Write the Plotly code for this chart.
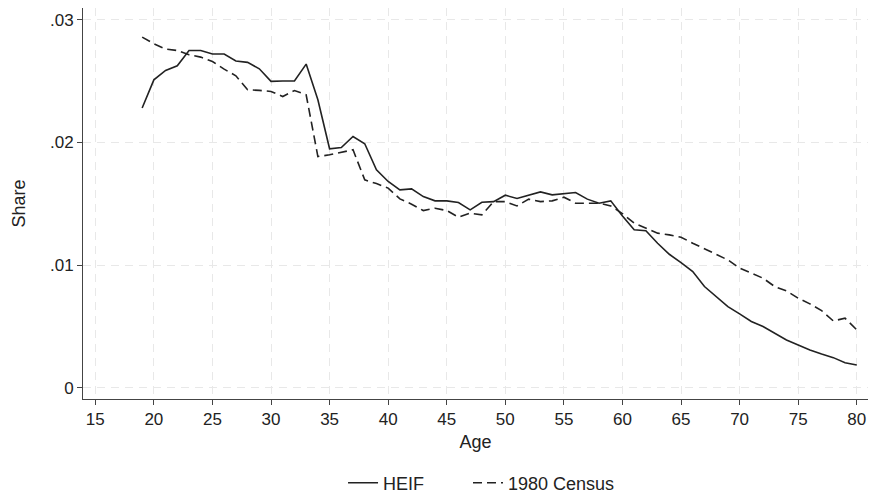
import plotly.graph_objects as go

ages = list(range(19, 81))
heif = [0.02280, 0.02510, 0.02586, 0.02624, 0.02749, 0.02749, 0.02720, 0.02720, 0.02663, 0.02652,
        0.02600, 0.02497, 0.02500, 0.02500, 0.02638, 0.02347, 0.01948, 0.01958, 0.02048, 0.01989,
        0.01777, 0.01682, 0.01614, 0.01622, 0.01559, 0.01524, 0.01524, 0.01510, 0.01451, 0.01513,
        0.01518, 0.01570, 0.01543, 0.01573, 0.01597, 0.01573, 0.01581, 0.01592, 0.01538, 0.01505,
        0.01524, 0.01400, 0.01288, 0.01280, 0.01179, 0.01089, 0.01021, 0.00948, 0.00826, 0.00744,
        0.00663, 0.00603, 0.00541, 0.00500, 0.00446, 0.00391, 0.00350, 0.00310, 0.00277, 0.00247,
        0.00206, 0.00187]
census = [0.02858, 0.02804, 0.02760, 0.02749, 0.02714, 0.02695, 0.02659, 0.02597, 0.02543, 0.02429,
          0.02424, 0.02415, 0.02374, 0.02423, 0.02388, 0.01885, 0.01899, 0.01918, 0.01940, 0.01695,
          0.01665, 0.01628, 0.01540, 0.01497, 0.01445, 0.01464, 0.01445, 0.01391, 0.01424, 0.01410,
          0.01518, 0.01518, 0.01483, 0.01538, 0.01518, 0.01524, 0.01554, 0.01505, 0.01505, 0.01505,
          0.01483, 0.01420, 0.01342, 0.01301, 0.01261, 0.01247, 0.01228, 0.01179, 0.01133, 0.01092,
          0.01043, 0.00976, 0.00935, 0.00894, 0.00826, 0.00791, 0.00731, 0.00685, 0.00630, 0.00546,
          0.00568, 0.00473]

x_ticks = [15, 20, 25, 30, 35, 40, 45, 50, 55, 60, 65, 70, 75, 80]
y_ticks = [0, 0.01, 0.02, 0.03]
y_labels = ["0", ".01", ".02", ".03"]

FONT = "Liberation Sans, Arial, sans-serif"

fig = go.Figure()
fig.add_trace(go.Scatter(x=ages, y=heif, mode="lines", name="HEIF", legend="legend",
                         line=dict(color="#222222", width=1.6)))
fig.add_trace(go.Scatter(x=ages, y=census, mode="lines", name="1980 Census", legend="legend2",
                         line=dict(color="#222222", width=1.6, dash="9px,5px")))

grid = dict(showgrid=True, gridcolor="#e8e8e8", griddash="8px,6px", gridwidth=1)
leg = dict(orientation="h", xref="container", xanchor="left",
           yref="container", y=0.030, yanchor="middle", font=dict(size=18))
fig.update_layout(
    width=870, height=498,
    margin=dict(l=83, r=2, t=8, b=99, autoexpand=False),
    paper_bgcolor="white", plot_bgcolor="white",
    font=dict(family=FONT, size=17, color="#222"),
    xaxis=dict(range=[13.95, 80.96], tickvals=x_ticks, ticks="outside", ticklen=5,
               tickcolor="#444", showline=True, linecolor="#444", linewidth=1,
               zeroline=False, title=dict(text="Age", standoff=6, font=dict(size=18)),
               automargin=False, ticklabeloverflow="allow", **grid),
    yaxis=dict(range=[-0.0009, 0.03095], tickvals=y_ticks, ticktext=y_labels,
               ticks="outside", ticklen=5, tickcolor="#444", showline=True,
               linecolor="#444", linewidth=1, zeroline=False,
               title=dict(text="Share", standoff=19, font=dict(size=18)),
               automargin=False, **grid),
    legend=dict(x=0.3943, **leg),
    legend2=dict(x=0.5379, **leg),
    showlegend=True,
)
fig.write_html("out.html", config={"displayModeBar": False},
               post_script="document.body.style.margin='0';")
